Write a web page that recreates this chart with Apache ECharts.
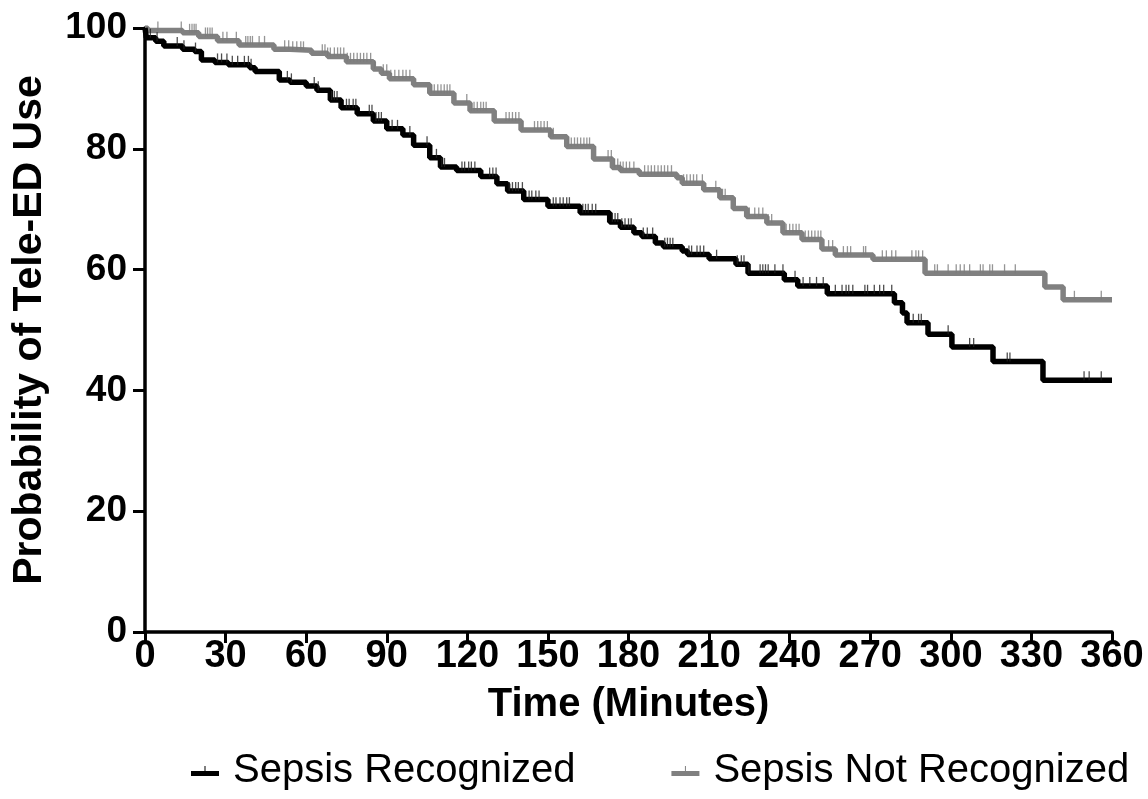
<!DOCTYPE html>
<html><head><meta charset="utf-8">
<script src="https://cdn.jsdelivr.net/npm/echarts@6/dist/echarts.min.js"></script>
<style>html,body{margin:0;padding:0;background:#fff}#c{width:1148px;height:799px}</style>
</head><body><div id="c"></div>
<script>
// ---- Data ----
const seriesNames = ['Sepsis Recognized', 'Sepsis Not Recognized'];
const xTicks = [0, 30, 60, 90, 120, 150, 180, 210, 240, 270, 300, 330, 360];
const yTicks = [0, 20, 40, 60, 80, 100];

// Sepsis Recognized: step times (minutes) and survival probability (%)
const recogTimes = [0, 0.5, 4, 7, 14, 18.5, 21, 26, 31, 39, 41, 50, 54, 60, 64, 69, 73, 79, 85, 90, 96, 100, 106, 110, 116, 125, 131, 135, 141, 150, 162, 173, 177, 182, 185, 190, 193, 200, 202, 210, 220, 224.5, 238, 243, 254, 279, 282, 283.7, 291.5, 300.4, 315.7, 334.3, 360];
const recogProb  = [100, 98.4, 97.8, 97.0, 96.5, 96.1, 94.7, 94.3, 93.9, 93.4, 92.8, 91.4, 91.0, 90.4, 89.7, 88.1, 86.8, 85.8, 84.6, 83.3, 82.3, 80.6, 78.5, 77.0, 76.4, 75.4, 74.2, 73.0, 71.6, 70.5, 69.4, 67.9, 67.0, 66.1, 65.5, 64.4, 63.8, 63.1, 62.5, 61.8, 60.9, 59.4, 58.3, 57.3, 56.0, 54.5, 52.8, 51.2, 49.3, 47.2, 44.8, 41.7, 41.7];
const recogCensor = [2, 4.5, 12, 14.5, 18.8, 27, 28.5, 30.5, 32.5, 34.5, 37, 38.5, 39.5, 53, 54.5, 63, 64.5, 69.5, 70.5, 71.5, 75, 76, 77.5, 78.5, 83.5, 84.5, 86, 87, 88, 92, 94, 98.6, 105, 108.5, 110.5, 111.5, 118, 119, 120.5, 121.5, 122.8, 128.3, 129.5, 130.7, 135.6, 136.8, 138, 139, 140.5, 143, 144, 145.5, 146.7, 152, 153, 154.5, 155.7, 157, 158, 163, 164, 165, 166.5, 167.8, 174, 175, 176, 177.5, 178.7, 180, 181, 185.5, 187, 189, 193.5, 194.5, 195.5, 196.5, 202.5, 203.5, 205.5, 206.7, 208, 212.8, 220.5, 222, 223, 224.8, 229, 230, 231, 232, 234.5, 237.5, 242, 245, 247.5, 250, 252.5, 257, 259.5, 261, 262, 263.5, 268, 269, 271.5, 273.5, 275, 278, 286, 288, 289, 299, 307, 308.5, 321, 322, 349.6, 351.5, 356];

// Sepsis Not Recognized
const notRecogTimes = [0, 1, 14, 20, 27, 35, 48, 54, 62, 68, 75, 85, 88, 91, 100, 106, 115, 121, 130, 140, 151, 157, 167, 174, 177, 184, 198, 200, 208, 214, 219, 224, 231.5, 237.5, 244.6, 252, 257, 271, 290.4, 335, 341.8, 360];
const notRecogProb  = [100, 99.6, 99.2, 98.6, 97.9, 97.2, 96.5, 96.3, 95.8, 95.3, 94.4, 93.2, 92.5, 91.6, 90.6, 89.2, 87.6, 86.3, 84.6, 83.1, 82.0, 80.4, 78.3, 76.9, 76.4, 75.8, 75.2, 74.3, 73.2, 71.9, 70.1, 68.8, 67.7, 66.1, 65.0, 63.4, 62.4, 61.7, 59.4, 57.1, 55.0, 55.0];
const notRecogCensor = [4.8, 13.5, 16.6, 17.5, 18.3, 19, 22.5, 23.3, 24.2, 25, 29, 30.5, 34, 37.5, 38.3, 39.2, 40, 42.5, 44.5, 52, 53.5, 55, 56.5, 58, 59, 66, 67, 68, 69, 70.5, 71.7, 72.8, 74, 75.3, 76.5, 77.7, 79, 80.2, 81.4, 82.6, 84, 85.5, 88.7, 90, 91.5, 93, 94.5, 96, 97.2, 98.6, 106.5, 107.7, 109, 110.2, 111.4, 112.5, 113.5, 119.8, 121.5, 122.5, 123.7, 125, 126, 127, 134.4, 135.6, 136.8, 138, 139.2, 140.5, 145, 146.2, 147.4, 148.6, 149.8, 151, 152, 157.5, 158.7, 159.9, 161, 162.2, 163.4, 164.5, 165.5, 172.4, 173.6, 174.8, 176, 177, 178, 179.2, 180.4, 182, 186, 187.3, 188.5, 189.7, 191, 192.2, 193.4, 194.6, 196, 200.5, 201.7, 203, 204.2, 205.4, 207.5, 212.5, 215, 216, 225, 227, 228.5, 230, 232, 233.3, 238.7, 240, 241.2, 242.4, 243.5, 245.8, 247, 248.2, 249.4, 250.6, 251.6, 254.5, 256, 260, 261.5, 262.7, 267.5, 268.3, 274.5, 276, 278, 279.5, 285.5, 287, 288, 289.5, 294, 295, 299, 302, 303.5, 305, 307, 311, 312, 314.5, 315.5, 320, 324, 346, 356];

// ---- helpers ----
function pairs(ts, vs) { return ts.map((t, i) => [t, vs[i]]); }
function stepValue(ts, vs, t) {
  let v = vs[0];
  for (let i = 0; i < ts.length; i++) { if (ts[i] <= t) v = vs[i]; else break; }
  return v;
}
function censorPoints(cs, ts, vs) { return cs.map(t => [t, stepValue(ts, vs, t)]); }

const BLACK = '#000000', GRAY = '#808080';
const font = "'Liberation Sans', Arial, Helvetica, sans-serif";
const legendIcon = 'path://M0,5 L28,5 L28,10 L0,10 Z M13.5,0 L14.5,0 L14.5,5 L13.5,5 Z';

const chart = echarts.init(document.getElementById('c'), null, { renderer: 'canvas' });
chart.setOption({
  animation: false,
  backgroundColor: '#ffffff',
  grid: { left: 145, right: 36, top: 28, bottom: 167, containLabel: false },
  legend: {
    data: seriesNames,
    left: 186, bottom: 3,
    icon: legendIcon,
    itemWidth: 28, itemHeight: 10,
    itemGap: 96,
    textStyle: { fontFamily: font, fontSize: 40, color: '#000', padding: [0, 0, 0, 9] }
  },
  xAxis: {
    type: 'value', min: 0, max: 360, interval: 30,
    name: 'Time (Minutes)', nameLocation: 'middle', nameGap: 53,
    nameTextStyle: { fontFamily: font, fontWeight: 'bold', fontSize: 40, color: '#000' },
    axisLine: { show: true, lineStyle: { color: '#000', width: 3.5 } },
    axisTick: { show: true, length: 11, lineStyle: { color: '#000', width: 3 } },
    axisLabel: { margin: 6, fontFamily: font, fontWeight: 'bold', fontSize: 38, color: '#000',
      formatter: v => xTicks.includes(v) ? String(v) : '' },
    splitLine: { show: false }
  },
  yAxis: {
    type: 'value', min: 0, max: 100, interval: 20,
    name: 'Probability of Tele-ED Use', nameLocation: 'middle', nameGap: 95,
    nameTextStyle: { fontFamily: font, fontWeight: 'bold', fontSize: 41, color: '#000' },
    axisLine: { show: true, lineStyle: { color: '#000', width: 3.5 } },
    axisTick: { show: true, length: 12, lineStyle: { color: '#000', width: 3 } },
    axisLabel: { margin: 18, fontFamily: font, fontWeight: 'bold', fontSize: 37, color: '#000',
      formatter: v => yTicks.includes(v) ? String(v) : '' },
    splitLine: { show: false }
  },
  series: [
    {
      name: seriesNames[1], type: 'line', step: 'end', showSymbol: false, silent: true, z: 2,
      itemStyle: { color: GRAY }, lineStyle: { color: GRAY, width: 5.5 },
      data: pairs(notRecogTimes, notRecogProb)
    },
    {
      name: seriesNames[1] + ' censored', type: 'scatter', silent: true, z: 3,
      symbol: 'rect', symbolSize: [1.3, 9], symbolOffset: [0, -4.5],
      itemStyle: { color: '#7a7a7a' },
      data: censorPoints(notRecogCensor, notRecogTimes, notRecogProb)
    },
    {
      name: seriesNames[0], type: 'line', step: 'end', showSymbol: false, silent: true, z: 4,
      itemStyle: { color: BLACK }, lineStyle: { color: BLACK, width: 5.5 },
      data: pairs(recogTimes, recogProb)
    },
    {
      name: seriesNames[0] + ' censored', type: 'scatter', silent: true, z: 5,
      symbol: 'rect', symbolSize: [1.3, 9], symbolOffset: [0, -4.5],
      itemStyle: { color: '#222' },
      data: censorPoints(recogCensor, recogTimes, recogProb)
    }
  ]
});
</script></body></html>
